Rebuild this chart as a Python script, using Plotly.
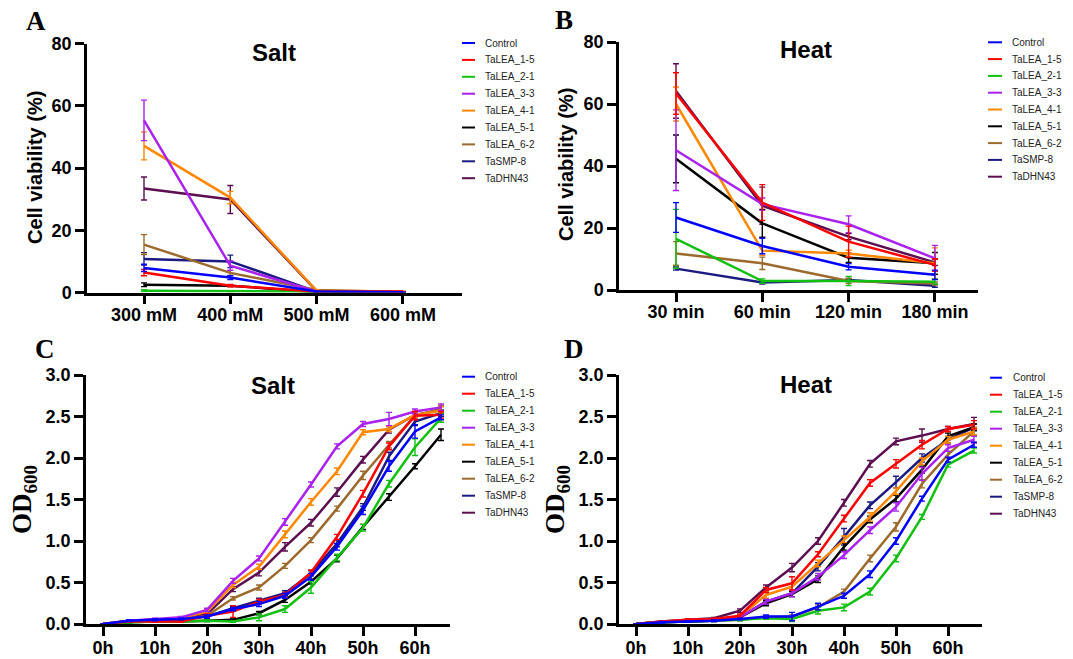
import plotly.graph_objects as go

W, H = 1073, 659

# ---------------- data ----------------
series = ["Control", "TaLEA_1-5", "TaLEA_2-1", "TaLEA_3-3", "TaLEA_4-1",
          "TaLEA_5-1", "TaLEA_6-2", "TaSMP-8", "TaDHN43"]
colors = ["#0000FF", "#FF0000", "#11C011", "#AA22EE", "#FF8800",
          "#000000", "#9C6A2C", "#1A1A80", "#5C0F50"]

salt_levels = ["300 mM", "400 mM", "500 mM", "600 mM"]
heat_times = ["30 min", "60 min", "120 min", "180 min"]

# Panel A: cell viability (%) under salt, rows follow `series`
salt_viab = [
    [7.9, 4.8, 0.3, 0.1],
    [6.4, 2.2, 0.3, 0.3],
    [0.6, 0.4, 0.1, 0.1],
    [55.3, 8.6, 0.3, 0.1],
    [47.1, 30.5, 0.6, 0.3],
    [2.5, 2.2, 0.1, 0.1],
    [15.4, 6.3, 0.8, 0.2],
    [10.8, 10.0, 0.3, 0.1],
    [33.4, 29.9, 0.5, 0.1],
]
salt_viab_err = [
    [1.2, 0.6, 0.1, 0.0],
    [1.0, 0.4, 0.1, 0.0],
    [0.3, 0.2, 0.0, 0.0],
    [6.5, 1.5, 0.1, 0.0],
    [4.5, 2.0, 0.2, 0.0],
    [0.6, 0.3, 0.0, 0.0],
    [3.2, 0.8, 0.1, 0.0],
    [2.0, 2.0, 0.1, 0.0],
    [3.7, 4.5, 0.2, 0.0],
]

# Panel B: cell viability (%) under heat
heat_viab = [
    [23.4, 14.2, 7.5, 4.9],
    [63.4, 28.2, 15.6, 8.1],
    [16.5, 2.9, 2.9, 2.7],
    [45.1, 27.7, 21.2, 10.2],
    [60.0, 12.7, 11.8, 8.6],
    [42.3, 21.5, 10.4, 8.6],
    [11.8, 8.6, 2.9, 2.1],
    [6.9, 2.4, 3.2, 1.4],
    [64.2, 27.2, 17.2, 8.9],
]
heat_viab_err = [
    [4.8, 2.5, 1.0, 1.5],
    [6.7, 5.8, 5.0, 2.0],
    [9.5, 0.7, 1.5, 0.8],
    [13.0, 2.0, 2.7, 4.2],
    [5.5, 1.5, 1.0, 5.0],
    [7.7, 4.5, 1.5, 3.5],
    [3.8, 2.0, 0.8, 0.5],
    [0.5, 0.5, 0.5, 0.5],
    [8.8, 6.0, 1.0, 1.0],
]

hours = [0, 5, 10, 15, 20, 25, 30, 35, 40, 45, 50, 55, 60, 65]
hour_ticks = [0, 10, 20, 30, 40, 50, 60]
hour_labels = ["0h", "10h", "20h", "30h", "40h", "50h", "60h"]

# Panel C: OD600 growth under salt
salt_od = [
    [0, 0.04, 0.05, 0.06, 0.09, 0.18, 0.24, 0.34, 0.57, 0.93, 1.37, 1.90, 2.32, 2.49],
    [0, 0.03, 0.03, 0.03, 0.10, 0.15, 0.27, 0.35, 0.62, 1.05, 1.57, 2.14, 2.51, 2.52],
    [0, 0.02, 0.03, 0.03, 0.04, 0.03, 0.08, 0.18, 0.44, 0.80, 1.16, 1.69, 2.13, 2.48],
    [0, 0.04, 0.06, 0.08, 0.17, 0.52, 0.79, 1.23, 1.68, 2.14, 2.41, 2.47, 2.56, 2.61],
    [0, 0.04, 0.05, 0.07, 0.15, 0.47, 0.69, 1.08, 1.47, 1.84, 2.31, 2.35, 2.52, 2.57],
    [0, 0.02, 0.03, 0.03, 0.04, 0.05, 0.13, 0.29, 0.51, 0.79, 1.17, 1.53, 1.90, 2.28],
    [0, 0.03, 0.04, 0.05, 0.10, 0.31, 0.44, 0.70, 1.01, 1.39, 1.79, 2.16, 2.51, 2.59],
    [0, 0.04, 0.05, 0.06, 0.09, 0.19, 0.28, 0.37, 0.61, 0.97, 1.41, 2.02, 2.44, 2.54],
    [0, 0.03, 0.05, 0.07, 0.12, 0.42, 0.62, 0.93, 1.22, 1.59, 1.98, 2.34, 2.52, 2.58],
]
salt_od_err = [
    [0, 0.01, 0.01, 0.01, 0.02, 0.02, 0.03, 0.03, 0.04, 0.04, 0.05, 0.06, 0.08, 0.03],
    [0, 0.01, 0.01, 0.01, 0.02, 0.07, 0.03, 0.03, 0.03, 0.03, 0.04, 0.04, 0.05, 0.04],
    [0, 0.01, 0.01, 0.01, 0.01, 0.01, 0.04, 0.04, 0.07, 0.04, 0.04, 0.04, 0.10, 0.05],
    [0, 0.01, 0.01, 0.01, 0.02, 0.03, 0.03, 0.04, 0.03, 0.03, 0.03, 0.08, 0.03, 0.04],
    [0, 0.01, 0.01, 0.01, 0.02, 0.03, 0.03, 0.04, 0.04, 0.04, 0.03, 0.03, 0.03, 0.05],
    [0, 0.01, 0.01, 0.01, 0.01, 0.01, 0.02, 0.03, 0.03, 0.04, 0.03, 0.04, 0.03, 0.07],
    [0, 0.01, 0.01, 0.01, 0.02, 0.02, 0.03, 0.03, 0.03, 0.03, 0.05, 0.04, 0.03, 0.04],
    [0, 0.01, 0.01, 0.01, 0.02, 0.02, 0.03, 0.03, 0.03, 0.04, 0.04, 0.05, 0.05, 0.04],
    [0, 0.01, 0.01, 0.01, 0.02, 0.03, 0.04, 0.05, 0.04, 0.05, 0.04, 0.04, 0.04, 0.04],
]

# Panel D: OD600 growth under heat
heat_od = [
    [0, 0.02, 0.03, 0.04, 0.06, 0.09, 0.09, 0.21, 0.34, 0.60, 1.00, 1.51, 1.98, 2.16],
    [0, 0.03, 0.05, 0.06, 0.10, 0.41, 0.49, 0.84, 1.27, 1.70, 1.93, 2.16, 2.35, 2.40],
    [0, 0.02, 0.03, 0.04, 0.05, 0.07, 0.06, 0.16, 0.20, 0.39, 0.79, 1.29, 1.92, 2.09],
    [0, 0.02, 0.04, 0.05, 0.08, 0.27, 0.37, 0.57, 0.83, 1.13, 1.41, 1.81, 2.12, 2.22],
    [0, 0.03, 0.04, 0.05, 0.09, 0.35, 0.45, 0.73, 1.02, 1.29, 1.60, 1.96, 2.22, 2.32],
    [0, 0.02, 0.03, 0.04, 0.08, 0.25, 0.36, 0.54, 0.93, 1.26, 1.51, 1.86, 2.26, 2.37],
    [0, 0.02, 0.03, 0.04, 0.05, 0.08, 0.09, 0.20, 0.39, 0.79, 1.17, 1.69, 2.04, 2.32],
    [0, 0.03, 0.04, 0.05, 0.08, 0.27, 0.37, 0.69, 1.05, 1.43, 1.71, 2.00, 2.22, 2.37],
    [0, 0.03, 0.05, 0.07, 0.16, 0.44, 0.68, 1.00, 1.46, 1.93, 2.20, 2.27, 2.35, 2.41],
]
heat_od_err = [
    [0, 0.01, 0.01, 0.01, 0.01, 0.02, 0.05, 0.04, 0.03, 0.04, 0.04, 0.03, 0.03, 0.03],
    [0, 0.01, 0.01, 0.01, 0.02, 0.03, 0.08, 0.03, 0.04, 0.04, 0.05, 0.05, 0.03, 0.05],
    [0, 0.01, 0.01, 0.01, 0.01, 0.01, 0.03, 0.04, 0.04, 0.04, 0.04, 0.03, 0.03, 0.03],
    [0, 0.01, 0.01, 0.01, 0.02, 0.03, 0.04, 0.04, 0.04, 0.04, 0.05, 0.08, 0.04, 0.04],
    [0, 0.01, 0.01, 0.01, 0.02, 0.04, 0.04, 0.04, 0.04, 0.05, 0.04, 0.04, 0.04, 0.04],
    [0, 0.01, 0.01, 0.01, 0.02, 0.03, 0.03, 0.04, 0.04, 0.04, 0.04, 0.04, 0.04, 0.04],
    [0, 0.01, 0.01, 0.01, 0.01, 0.02, 0.02, 0.03, 0.03, 0.04, 0.05, 0.05, 0.04, 0.05],
    [0, 0.01, 0.01, 0.01, 0.02, 0.03, 0.04, 0.05, 0.10, 0.04, 0.07, 0.05, 0.04, 0.04],
    [0, 0.01, 0.01, 0.01, 0.02, 0.03, 0.05, 0.04, 0.04, 0.04, 0.04, 0.08, 0.03, 0.08],
]

# ---------------- layout helpers ----------------
def fx(px):
    return px / W

def fy(py):
    return 1 - py / H

SANS = "Liberation Sans, Arial, sans-serif"
SERIF = "Liberation Serif, Times New Roman, serif"

fig = go.Figure()

panels = [
    ("x", "y", salt_levels, salt_viab, salt_viab_err),
    ("x2", "y2", heat_times, heat_viab, heat_viab_err),
    ("x3", "y3", hours, salt_od, salt_od_err),
    ("x4", "y4", hours, heat_od, heat_od_err),
]

for xa, ya, xs, vals, errs in panels:
    for i in reversed(range(len(series))):
        fig.add_trace(go.Scatter(
            x=xs, y=vals[i], name=series[i], mode="lines",
            line=dict(color=colors[i], width=2.5),
            error_y=dict(type="data", array=errs[i], visible=True,
                         thickness=1.4, width=3, color=colors[i]),
            xaxis=xa, yaxis=ya, showlegend=False, cliponaxis=False,
        ))

axis_common = dict(showline=True, linecolor="black", linewidth=2.5,
                   ticks="outside", ticklen=9, tickwidth=2.5, tickcolor="black",
                   showgrid=False, zeroline=False, automargin=False,
                   tickfont=dict(family=SANS, size=18, color="black", weight="bold"))

boxA = (87, 462, 43.5, 292.5)
boxB = (619, 978, 42, 290)
boxC = (86, 450, 375, 624)
boxD = (619, 982, 375, 624)

def dom(box):
    l, r, t, b = box
    return [fx(l), fx(r)], [fy(b), fy(t)]

dxA, dyA = dom(boxA)
dxB, dyB = dom(boxB)
dxC, dyC = dom(boxC)
dxD, dyD = dom(boxD)

fig.update_layout(
    template="none",
    width=W, height=H, margin=dict(l=0, r=0, t=0, b=0, autoexpand=False),
    autosize=False,
    plot_bgcolor="white", paper_bgcolor="white", showlegend=False,
    xaxis=dict(domain=dxA, anchor="y", type="category",
               categoryorder="array", categoryarray=salt_levels,
               range=[(87 - 144) / 86.3, (462 - 144) / 86.3],
               ticklabelstandoff=-5, **axis_common),
    yaxis=dict(domain=dyA, anchor="x", range=[0, 80], dtick=20, **axis_common),
    xaxis2=dict(domain=dxB, anchor="y2", type="category",
                categoryorder="array", categoryarray=heat_times,
                range=[(619 - 676) / 86.3, (978 - 676) / 86.3],
                ticklabelstandoff=-5, **axis_common),
    yaxis2=dict(domain=dyB, anchor="x2", range=[0, 80], dtick=20, **axis_common),
    xaxis3=dict(domain=dxC, anchor="y3", range=[(86 - 103) / 5.2, (450 - 103) / 5.2],
                tickvals=hour_ticks, ticktext=hour_labels,
                ticklabelstandoff=-3, **axis_common),
    yaxis3=dict(domain=dyC, anchor="x3", range=[0, 3], dtick=0.5, tickformat=".1f",
                **axis_common),
    xaxis4=dict(domain=dxD, anchor="y4", range=[(619 - 636) / 5.2, (982 - 636) / 5.2],
                tickvals=hour_ticks, ticktext=hour_labels,
                ticklabelstandoff=-3, **axis_common),
    yaxis4=dict(domain=dyD, anchor="x4", range=[0, 3], dtick=0.5, tickformat=".1f",
                **axis_common),
)

ann = []
shapes = []

def text(px, py, s, size, family=SANS, bold=True, angle=0, xanchor="center",
         yanchor="middle", color="black"):
    ann.append(dict(x=fx(px), y=fy(py), xref="paper", yref="paper", text=s,
                    showarrow=False, textangle=angle, xanchor=xanchor,
                    yanchor=yanchor,
                    font=dict(family=family, size=size, color=color,
                              weight="bold" if bold else "normal")))

for letter, px, py in [("A", 36, 21), ("B", 564, 20), ("C", 45, 349), ("D", 574, 349)]:
    text(px, py, letter, 27, family=SERIF)

text(274, 52, "Salt", 24)
text(806, 49, "Heat", 24)
text(273, 385, "Salt", 24)
text(806, 384, "Heat", 24)

text(35, 167, "Cell viability (%)", 20, angle=-90)
text(566, 165, "Cell viability (%)", 20, angle=-90)
text(24, 500, "OD<sub>600</sub>", 27, family=SERIF, angle=-90)
text(557, 500, "OD<sub>600</sub>", 27, family=SERIF, angle=-90)

legend_pos = [
    (462, 475, 483, 43, 16.9),
    (988, 1002, 1010, 42.3, 16.8),
    (462, 475, 483, 376.7, 17.0),
    (990, 1002, 1010.5, 377.7, 17.0),
]
for lx0, lx1, tx, y0, step in legend_pos:
    for i, name in enumerate(series):
        yy = y0 + i * step
        shapes.append(dict(type="line", xref="paper", yref="paper",
                           x0=fx(lx0), x1=fx(lx1), y0=fy(yy), y1=fy(yy),
                           line=dict(color=colors[i], width=2)))
        text(tx, yy, name, 10, bold=False, xanchor="left", color="#222222")

fig.update_layout(annotations=ann, shapes=shapes)

fig.write_html(
    "out.html",
    config={"displayModeBar": False, "responsive": False},
    post_script="document.body.style.margin='0px';document.body.style.padding='0px';"
                "document.body.style.overflow='hidden';",
)
